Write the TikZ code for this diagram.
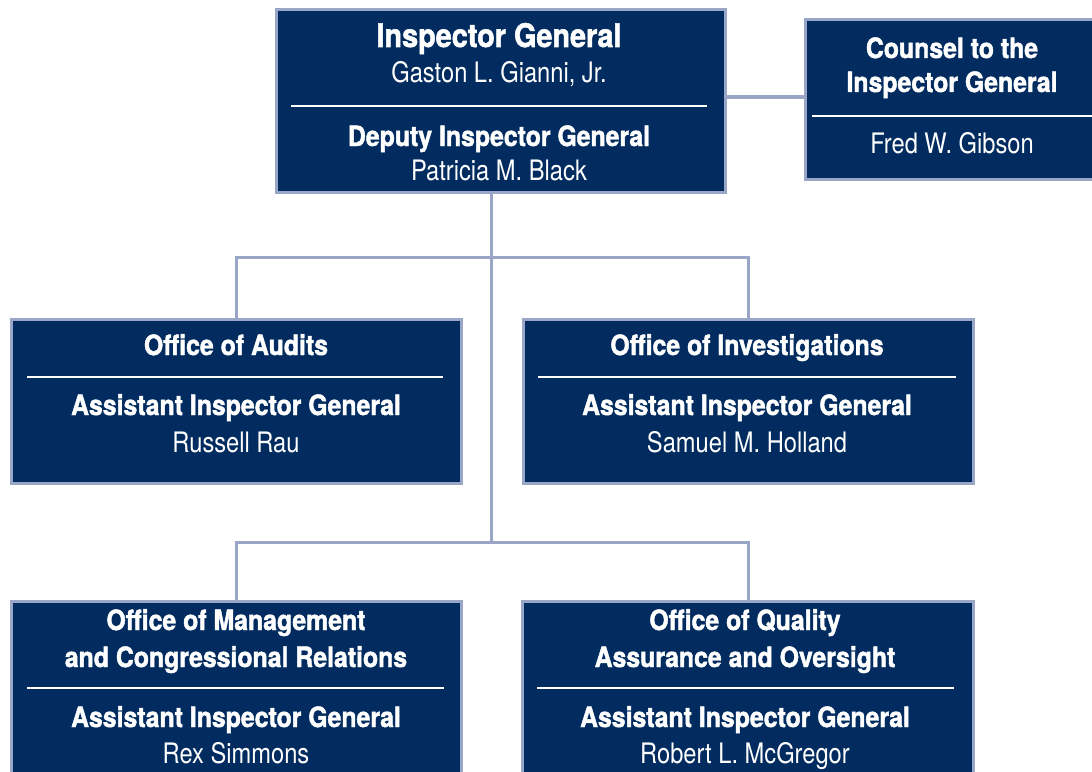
\documentclass[tikz,border=0pt]{standalone}
\usepackage{fontspec}
\newfontfamily\headfont{TeX Gyre Heros}[FakeStretch=0.89, BoldFeatures={FakeBold=1.6}]
\newfontfamily\namefont{TeX Gyre Heros}[FakeStretch=0.84]
\definecolor{navy}{HTML}{022C5F}
\definecolor{edge}{HTML}{9AA6C8}
\tikzset{
  unitbox/.style={draw=edge, line width=3bp, fill=navy, inner sep=0pt, outer sep=0pt},
  head/.style={anchor=base, text=white, inner sep=0pt,
    font=\headfont\bfseries\fontsize{27.9bp}{30bp}\selectfont},
  bighead/.style={head, font=\headfont\bfseries\fontsize{32.4bp}{34bp}\selectfont},
  person/.style={anchor=base, text=white, inner sep=0pt,
    font=\namefont\fontsize{28.2bp}{30bp}\selectfont},
  rule/.style={draw=white, line width=2bp},
  link/.style={draw=edge, line width=3bp},
}
\begin{document}
\begin{tikzpicture}[x=1bp, y=-1bp]
  \useasboundingbox (0,0) rectangle (1092,772);
  \fill[white] (0,0) rectangle (1092,772);
  \clip (0,0) rectangle (1092,772);

  % junction points of the tree
  \coordinate (hub1) at (491,257);
  \coordinate (hub2) at (491,542);
  \coordinate (side) at (766,97);

  % outlines of the units, used to route the connectors
  \path (501,101) node[unitbox, minimum width=449bp, minimum height=182bp, fill=none, draw=none] (tb) {};
  \path (952,99.5) node[unitbox, minimum width=294bp, minimum height=159bp, fill=none, draw=none] (cb) {};
  \path (236.5,401) node[unitbox, minimum width=450bp, minimum height=164bp, fill=none, draw=none] (ab) {};
  \path (748.5,401) node[unitbox, minimum width=450bp, minimum height=164bp, fill=none, draw=none] (ib) {};
  \path (236.5,700) node[unitbox, minimum width=450bp, minimum height=198bp, fill=none, draw=none] (mb) {};
  \path (748,700) node[unitbox, minimum width=451bp, minimum height=198bp, fill=none, draw=none] (qb) {};

  % connectors (drawn first so the boxes sit on top)
  \draw[link] (tb.south -| hub1) -- (hub2);
  \draw[link] (ab.north) |- (hub1) -| (ib.north);
  \draw[link] (mb.north) |- (hub2) -| (qb.north);
  \draw[link] (tb.east |- side) -- (cb.west |- side);

  % boxes
  \node[unitbox, minimum width=449bp, minimum height=182bp] (tbox) at (tb) {};
  \node[unitbox, minimum width=294bp, minimum height=159bp] (cbox) at (cb) {};
  \node[unitbox, minimum width=450bp, minimum height=164bp] (abox) at (ab) {};
  \node[unitbox, minimum width=450bp, minimum height=164bp] (ibox) at (ib) {};
  \node[unitbox, minimum width=450bp, minimum height=198bp] (mbox) at (mb) {};
  \node[unitbox, minimum width=451bp, minimum height=198bp] (qbox) at (qb) {};

  % dividing rules
  \draw[rule] (291,106) -- (707,106);
  \draw[rule] (812,116) -- (1100,116);
  \draw[rule] (27,377) -- (443,377);
  \draw[rule] (538,377) -- (956,377);
  \draw[rule] (27,688) -- (444,688);
  \draw[rule] (537,688) -- (954,688);

  % Inspector General
  \node[bighead] (t1) at (499,47) {Inspector General};
  \node[person]  (t2) at (499,83) {Gaston L. Gianni, Jr.};
  \node[head]    (t3) at (499,146) {Deputy Inspector General};
  \node[person]  (t4) at (499,180) {Patricia M. Black};

  % Counsel
  \node[head]   (c1) at (952,58) {Counsel to the};
  \node[head]   (c2) at (952,92) {Inspector General};
  \node[person] (c3) at (952,153) {Fred W. Gibson};

  % Audits
  \node[head]   (a1) at (236,355) {Office of Audits};
  \node[head]   (a2) at (236,415) {Assistant Inspector General};
  \node[person] (a3) at (236,452) {Russell Rau};

  % Investigations
  \node[head]   (i1) at (747,355) {Office of Investigations};
  \node[head]   (i2) at (747,415) {Assistant Inspector General};
  \node[person] (i3) at (747,452) {Samuel M. Holland};

  % Management and Congressional Relations
  \node[head]   (m1) at (236,630) {Office of Management};
  \node[head]   (m2) at (236,667) {and Congressional Relations};
  \node[head]   (m3) at (236,727) {Assistant Inspector General};
  \node[person] (m4) at (236,763) {Rex Simmons};

  % Quality Assurance and Oversight
  \node[head]   (q1) at (745,630) {Office of Quality};
  \node[head]   (q2) at (745,667) {Assurance and Oversight};
  \node[head]   (q3) at (745,727) {Assistant Inspector General};
  \node[person] (q4) at (745,763) {Robert L. McGregor};
\end{tikzpicture}
\end{document}
